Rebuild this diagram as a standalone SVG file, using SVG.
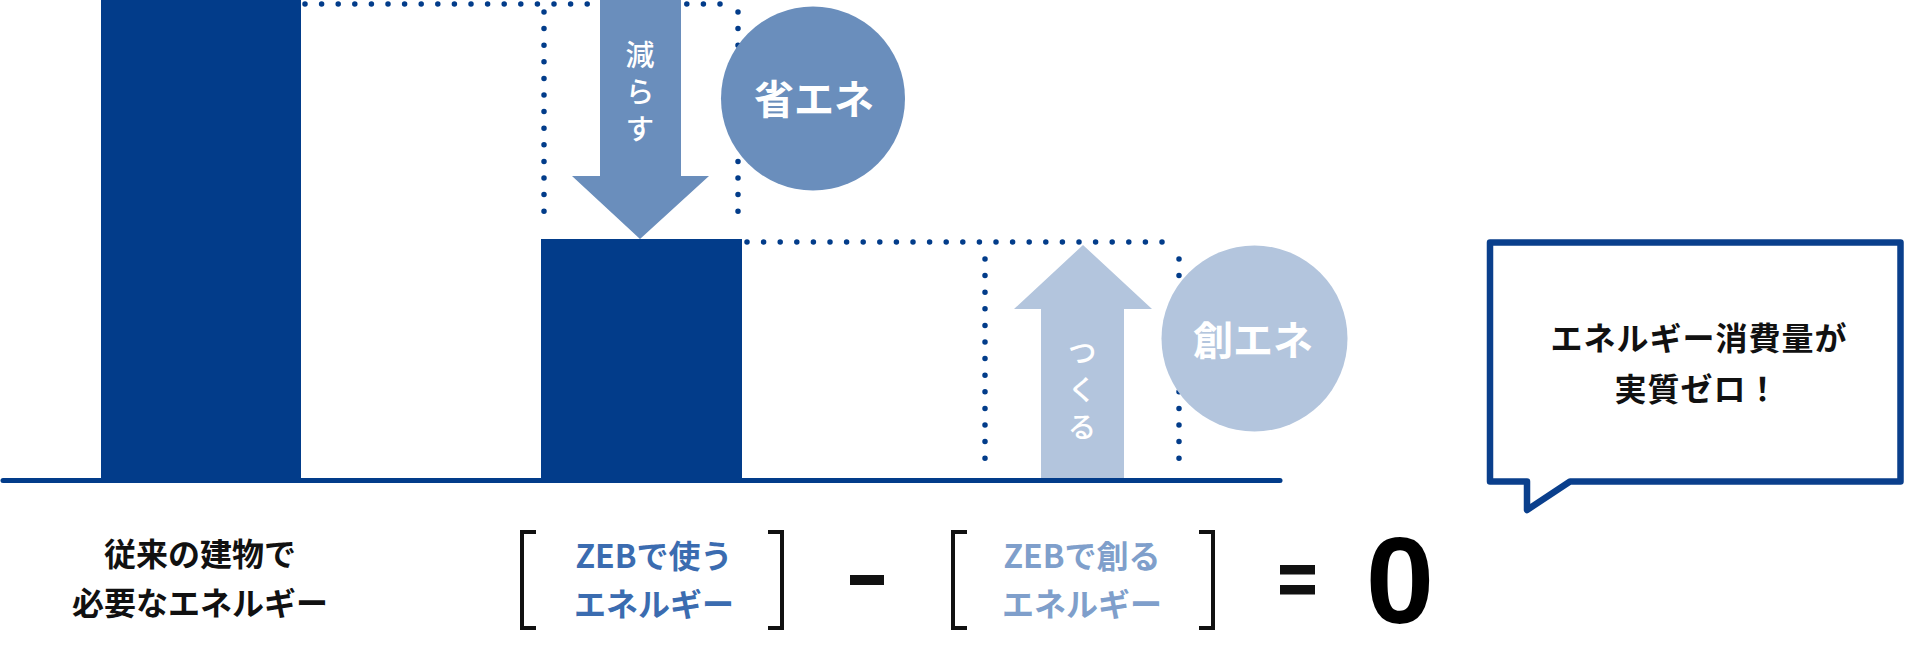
<svg xmlns="http://www.w3.org/2000/svg" width="1905" height="655" viewBox="0 0 1905 655">
<style>
.navy{fill:#023c8a}
.dot{fill:none;stroke:#023c8a;stroke-width:5.5;stroke-linecap:round;stroke-dasharray:0 16.6}
.jp{font-family:"Noto Sans CJK JP","Noto Sans",sans-serif}
.w{fill:#ffffff}
.b{font-weight:700}
.brk{fill:none;stroke:#111111;stroke-width:4}
.vt{writing-mode:vertical-rl;font-size:29px;font-weight:500;letter-spacing:8px}
</style>
<rect width="1905" height="655" fill="#ffffff"/>
<g id="connectors">
  <line class="dot" x1="305" y1="4" x2="735" y2="4"/>
  <line class="dot" x1="544" y1="12" x2="544" y2="226"/>
  <line class="dot" x1="738" y1="12" x2="738" y2="226"/>
  <line class="dot" x1="747" y1="242" x2="1172" y2="242"/>
  <line class="dot" x1="985" y1="259" x2="985" y2="474"/>
  <line class="dot" x1="1179" y1="259" x2="1179" y2="474"/>
</g>
<g id="bar-conventional">
  <rect class="navy" x="101" y="0" width="200" height="482"/>
</g>
<g id="bar-zeb">
  <rect class="navy" x="541" y="239" width="201" height="244"/>
</g>
<g id="arrow-reduce">
  <polygon fill="#6a8ebc" points="600,0 681,0 681,176 709,176 640,239 572,176 600,176"/>
  <text class="jp w vt" x="640" y="40">減らす</text>
</g>
<g id="circle-shoene">
  <circle cx="813" cy="98.5" r="92" fill="#6a8ebc"/>
  <text class="jp w b" x="814" y="114" font-size="40" text-anchor="middle">省エネ</text>
</g>
<g id="arrow-create">
  <polygon fill="#b3c5dd" points="1083,245 1152,309 1124,309 1124,480 1041,480 1041,309 1014,309"/>
  <text class="jp w vt" x="1082" y="338">つくる</text>
</g>
<g id="circle-souene">
  <circle cx="1254.5" cy="338.5" r="93" fill="#b3c5dd"/>
  <text class="jp w b" x="1253" y="355" font-size="40" text-anchor="middle">創エネ</text>
</g>
<g id="baseline">
  <line x1="3" y1="480.5" x2="1280" y2="480.5" stroke="#023c8a" stroke-width="5" stroke-linecap="round"/>
</g>
<g id="bubble">
  <path d="M1490,242.5 H1900.5 V481.5 H1570 L1527,510 V481.5 H1490 Z" fill="#ffffff" stroke="#0a3f8c" stroke-width="6.5" stroke-linejoin="round"/>
  <text class="jp b" x="1699" y="350" font-size="32" letter-spacing="1" text-anchor="middle" fill="#111111">エネルギー消費量が</text>
  <text class="jp b" x="1697" y="401" font-size="32" letter-spacing="1" text-anchor="middle" fill="#111111">実質ゼロ！</text>
</g>
<g id="label-conventional">
  <text class="jp b" x="200" y="566" font-size="32" text-anchor="middle" fill="#111111">従来の建物で</text>
  <text class="jp b" x="200" y="615" font-size="32" text-anchor="middle" fill="#111111">必要なエネルギー</text>
</g>
<g id="label-use">
  <path class="brk" d="M536,532 H522 V628 H536"/>
  <path class="brk" d="M768,532 H782 V628 H768"/>
  <text class="jp b" x="654" y="568" font-size="32" text-anchor="middle" fill="#3b6cb0">ZEBで使う</text>
  <text class="jp b" x="654" y="616" font-size="32" text-anchor="middle" fill="#3b6cb0">エネルギー</text>
</g>
<g id="minus">
  <rect x="850" y="575" width="34" height="10" fill="#111111"/>
</g>
<g id="label-create">
  <path class="brk" d="M967,532 H953 V628 H967"/>
  <path class="brk" d="M1199,532 H1213 V628 H1199"/>
  <text class="jp b" x="1082" y="568" font-size="32" text-anchor="middle" fill="#7f9fcb">ZEBで創る</text>
  <text class="jp b" x="1082" y="616" font-size="32" text-anchor="middle" fill="#7f9fcb">エネルギー</text>
</g>
<g id="equals">
  <rect x="1280" y="565" width="35" height="9.5" fill="#111111"/>
  <rect x="1280" y="585" width="35" height="9.5" fill="#111111"/>
</g>
<g id="zero">
  <text x="1400" y="623" font-family="'Liberation Sans',Arial,sans-serif" font-weight="700" font-size="123" text-anchor="middle" fill="#000000">0</text>
</g>
</svg>
